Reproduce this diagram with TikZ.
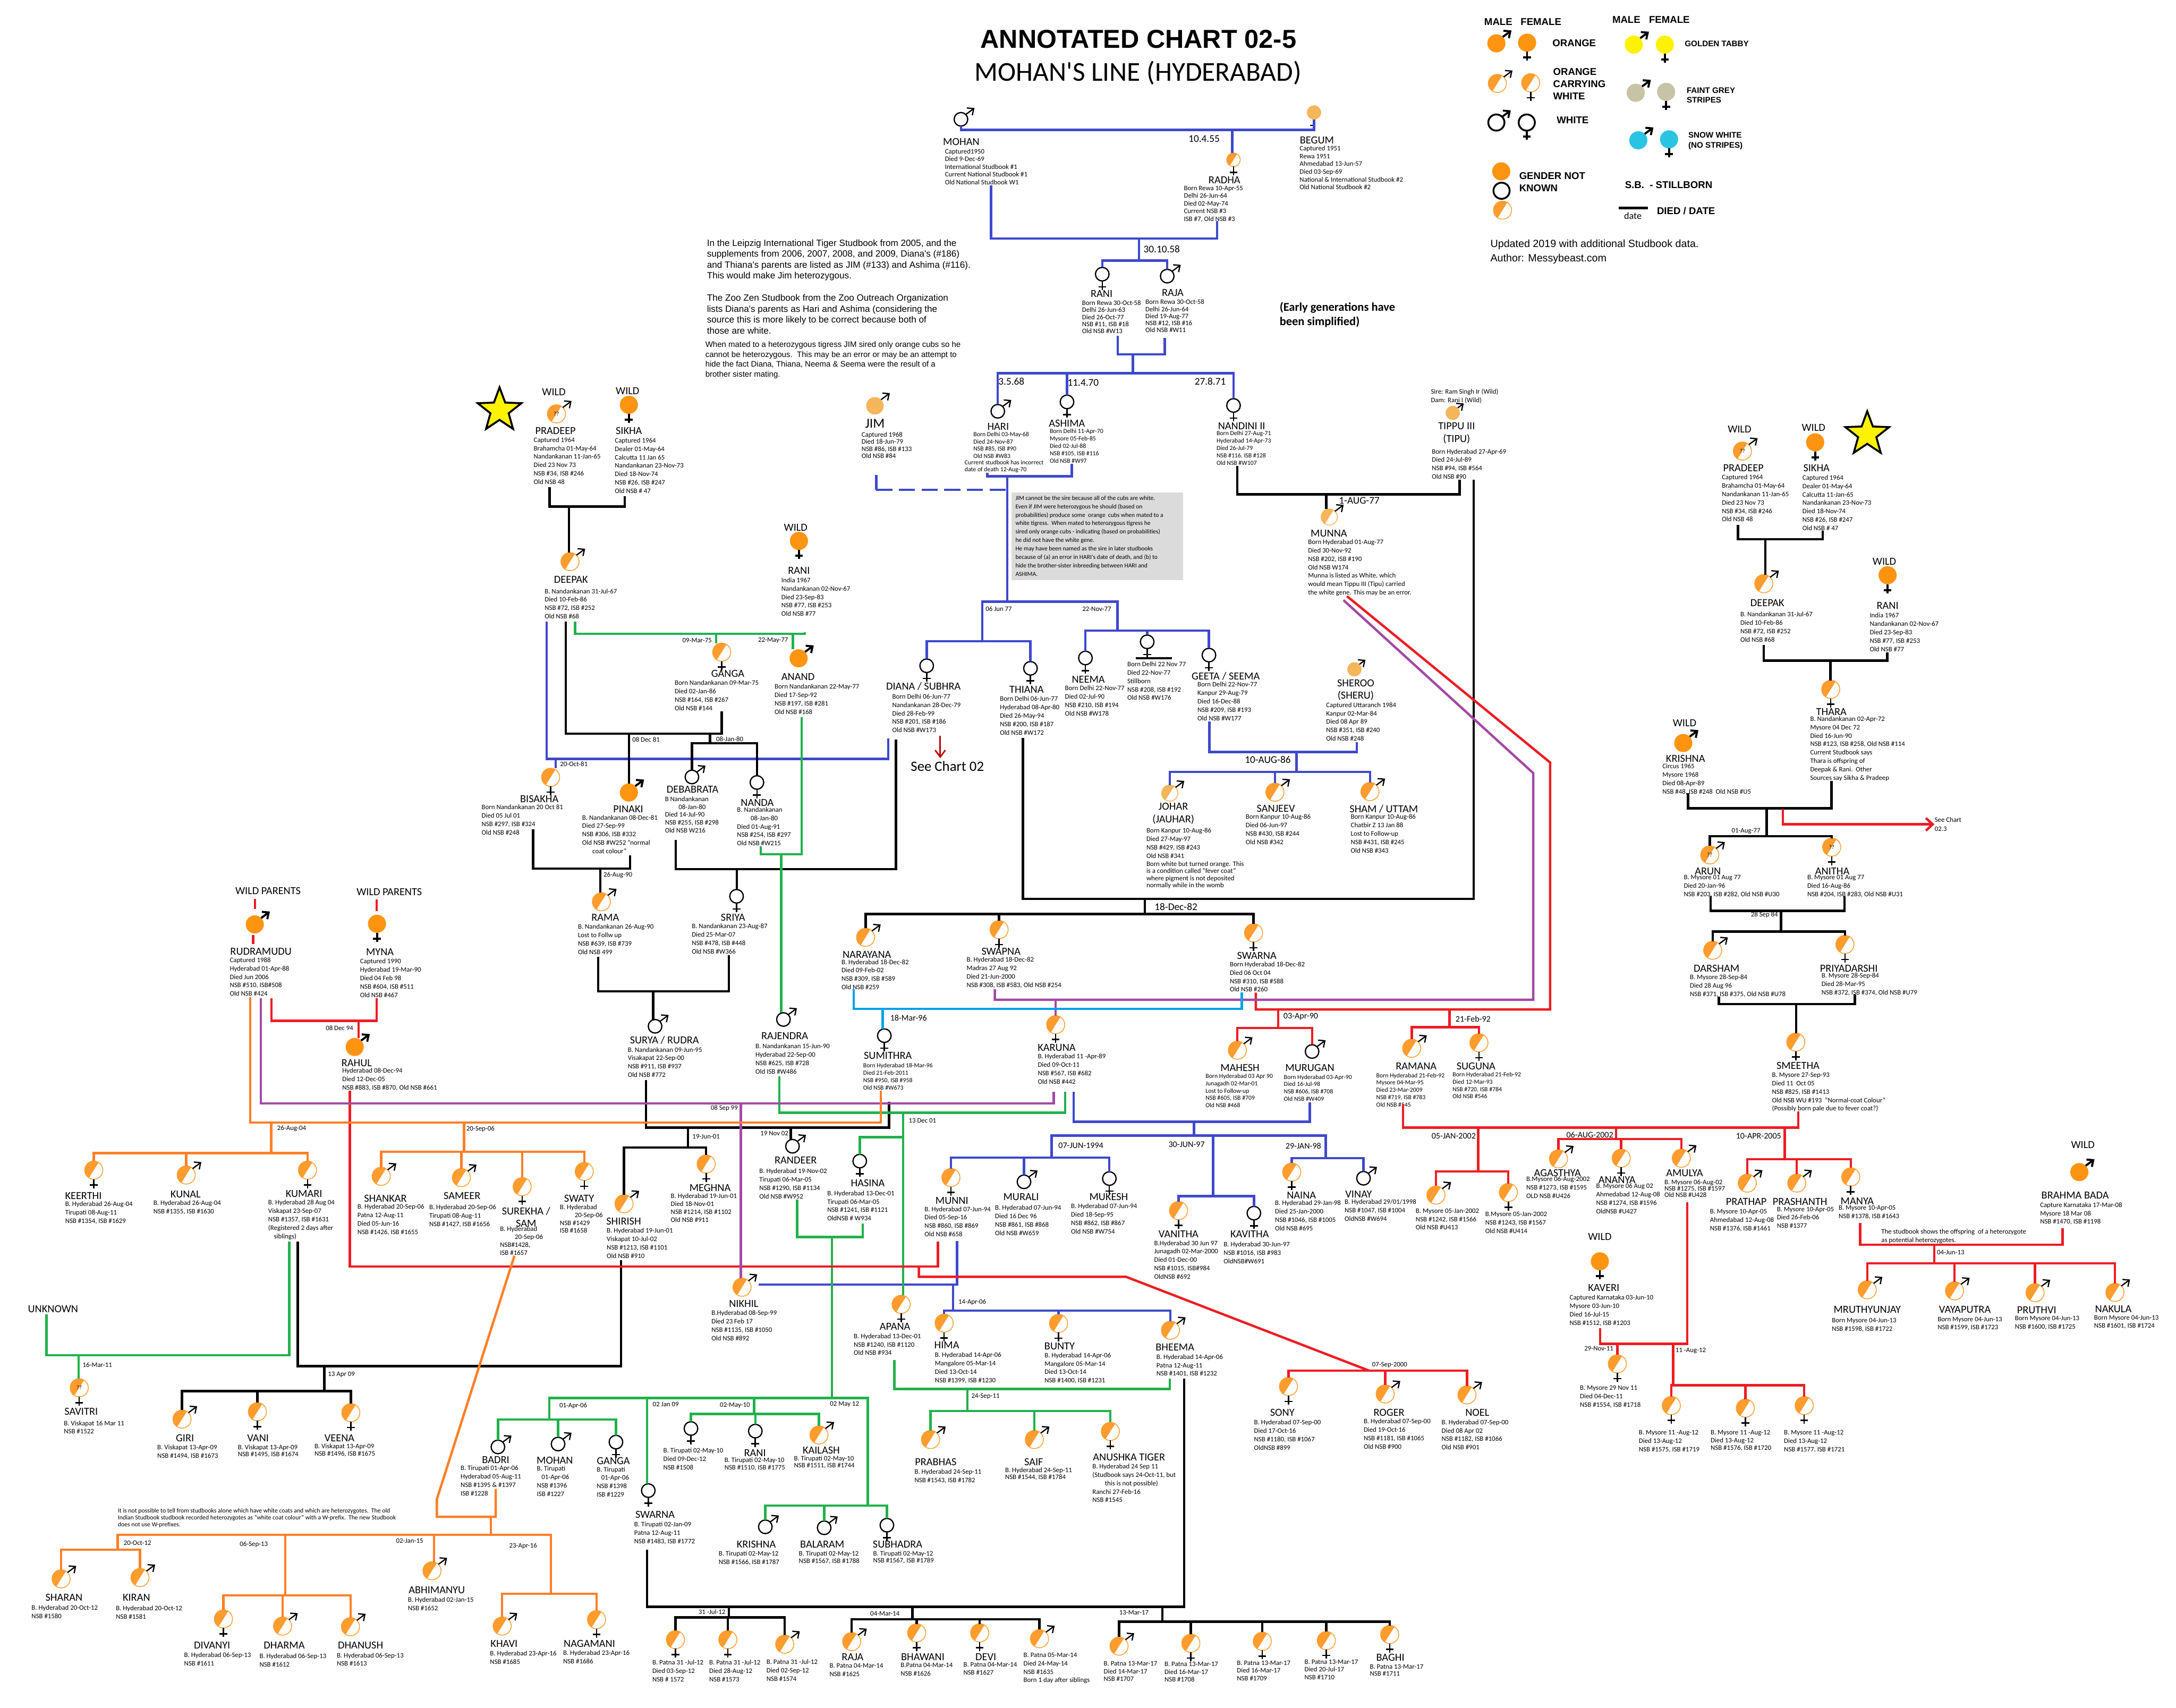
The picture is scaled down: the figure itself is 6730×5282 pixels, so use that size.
\documentclass[tikz,border=0pt]{standalone}
\usepackage{fontspec}
\setmainfont{Carlito}
\newfontfamily\arialfont{Liberation Sans}
\usetikzlibrary{arrows.meta,shapes.geometric}
\definecolor{tigerorange}{HTML}{FF9411}
\definecolor{carrierorange}{HTML}{FF9C2E}
\definecolor{tigersandy}{HTML}{F5B55A}
\definecolor{goldtabby}{HTML}{FFF200}
\definecolor{faintgrey}{HTML}{C6C3A6}
\definecolor{snowwhite}{HTML}{2AC4E2}
\definecolor{lineblue}{HTML}{3F48CC}
\definecolor{linegreen}{HTML}{22B14C}
\definecolor{linered}{HTML}{ED1C24}
\definecolor{linepurple}{HTML}{A349A4}
\definecolor{lineorange}{HTML}{FF7F27}
\definecolor{linecyan}{HTML}{00A2E8}
\tikzset{
 tigbody/.style={circle,inner sep=0pt,outer sep=0pt,minimum size=.56cm},
 bodyorange/.style={tigbody,fill=tigerorange},
 bodycarrier/.style={tigbody,draw=carrierorange,line width=.7pt,fill=white,
  path picture={\fill[carrierorange] (path picture bounding box.center)++(30,-48)--++(-60,96)--++(-60,0)--++(0,-96)--cycle;}},
 bodycarriers/.style={bodycarrier,minimum size=.42cm},
 bodyquery/.style={bodycarrier,execute at begin node={\fontsize{5}{5}\selectfont ??}},
 bodywhite/.style={tigbody,draw,line width=1.1pt,fill=white,minimum size=.42cm},
 bodywhitebig/.style={tigbody,draw,line width=1.6pt,fill=white,minimum size=.5cm},
 bodysandy/.style={tigbody,fill=tigersandy,minimum size=.44cm},
 bodysandybig/.style={tigbody,fill=tigersandy,minimum size=.54cm},
 bodyhalfsandy/.style={tigbody,draw=tigersandy,line width=.7pt,fill=white,minimum size=.5cm,
  path picture={\fill[tigersandy] (path picture bounding box.center)++(30,-48)--++(-60,96)--++(-60,0)--++(0,-96)--cycle;}},
 bodygold/.style={tigbody,fill=goldtabby},
 bodygrey/.style={tigbody,fill=faintgrey},
 bodysnow/.style={tigbody,fill=snowwhite},
 malesign/.style={line width=1.1pt,-{Straight Barb[length=4.5pt,width=8pt]}},
 femalesign/.style={line width=1.2pt},
 signorange/.style={line width=1.8pt},
 signgold/.style={line width=1.8pt},
 signgrey/.style={line width=1.8pt},
 signsnow/.style={line width=1.8pt},
 signwhitebig/.style={line width=1.7pt},
 signsandy/.style={shorten >=3pt},
 tname/.style={font=\fontsize{9.5}{11}\selectfont,inner sep=0pt,align=center},
 tinfo/.style={anchor=north west,inner sep=0pt,align=left,font=\fontsize{6}{#1}\selectfont},
 tinfo/.default=7.4,
 tinfosm/.style={anchor=north west,inner sep=0pt,align=left,font=\fontsize{5.5}{#1}\selectfont},
 tinfosm/.default=6.5,
 datelab/.style={font=\fontsize{6}{7}\selectfont,inner sep=0pt},
 datemid/.style={font=\fontsize{7.5}{9}\selectfont,inner sep=0pt},
 datebig/.style={font=\fontsize{9}{11}\selectfont,inner sep=0pt},
 legbig/.style={anchor=west,inner sep=0pt,font=\arialfont\fontsize{8.7}{10.7}\selectfont\bfseries,align=left},
 legsm/.style={anchor=west,inner sep=0pt,font=\arialfont\fontsize{7.1}{8.6}\selectfont\bfseries,align=left},
 essay/.style={anchor=north west,inner sep=0pt,align=left,font=\arialfont\fontsize{8}{9.6}\selectfont},
 wildstar/.style={star,star points=5,star point ratio=2.4,minimum size=1.42cm,inner sep=0pt,draw,line width=1.7pt,fill=goldtabby},
 linebase/.style={line width=2.1pt,line join=miter},
 blueline/.style={linebase,lineblue},
 blackline/.style={linebase,black},
 greenline/.style={linebase,linegreen},
 redline/.style={linebase,linered},
 purpleline/.style={linebase,linepurple},
 orangeline/.style={linebase,lineorange},
 cyanline/.style={linebase,linecyan},
}
\newcommand{\tigm}[4]{\node[body#1] (#2) at (#3,#4) {}; \draw[malesign,sign#1/.try] (#2.45)--++(27,-20);}
\newcommand{\tigf}[4]{\node[body#1] (#2) at (#3,#4) {}; \draw[femalesign,sign#1/.try] (#2.south)--++(0,28)++(-12,-10)--++(24,0);}
\begin{document}
\begin{tikzpicture}[x=.01cm,y=-.01cm]
 \useasboundingbox (0,0) rectangle (6730,5282);
 % title and notes
 \node[inner sep=0pt,font=\arialfont\fontsize{22.8}{26}\selectfont\bfseries] (title) at (3521,121) {ANNOTATED CHART 02-5};
 \node[inner sep=0pt,font=\fontsize{24}{28}\selectfont] (subtitle) at (3520,226) {MOHAN\textquotesingle S LINE (HYDERABAD)};
 \node[essay] (essay1) at (2186,740) {In the Leipzig International Tiger Studbook from 2005, and the\\supplements from 2006, 2007, 2008, and 2009, Diana's (\#186)\\and Thiana's parents are listed as JIM (\#133) and Ashima (\#116).\\This would make Jim heterozygous.};
 \node[essay] (essay2) at (2186,910) {The Zoo Zen Studbook from the Zoo Outreach Organization\\lists Diana's parents as Hari and Ashima (considering the\\source this is more likely to be correct because both of\\those are white.};
 \node[essay,font=\arialfont\fontsize{7}{8.6}\selectfont] (essay3) at (2181,1056) {When mated to a heterozygous tigress JIM sired only orange cubs so he\\cannot be heterozygous.\ \ This may be an error or may be an attempt to\\hide the fact Diana, Thiana, Neema \& Seema were the result of a\\brother sister mating.};
 \node[anchor=north west,inner sep=0pt,align=left,font=\fontsize{10.5}{12.5}\selectfont\bfseries] (early) at (3957,934) {(Early generations have\\been simplified)};
 \node[anchor=north west,inner sep=0pt,align=left,font=\arialfont\fontsize{9.2}{12.6}\selectfont] (updated) at (4609,740) {Updated 2019 with additional Studbook data.\\Author: Messybeast.com};
 \node[tinfosm=6.2,anchor=north west] (studbooknote) at (364,4664) {It is not possible to tell from studbooks alone which have white coats and which are heterozygotes.\ \ The old\\Indian Studbook studbook recorded heterozygotes as "white coat colour" with a W-prefix.\ \ The new Studbook\\does not use W-prefixes.};
 \node[tinfo=7.4] (hetnote) at (5818,3801) {The studbook shows the offspring\ \ of a heterozygote\\as potential heterozygotes.};
 \fill[gray!28] (3128,1523) rectangle (3659,1794);
 \node[anchor=north west,inner sep=0pt,align=left,font=\fontsize{5.4}{7.4}\selectfont] (greynote) at (3140,1533) {JIM cannot be the sire because all of the cubs are white.\\Even if JIM were heterozygous he should (based on\\probabilities) produce some\ \ orange\ \ cubs when mated to a\\white tigress.\ \ When mated to heterozygous tigress he\\sired only orange cubs - indicating (based on probabilities)\\he did not have the white gene.\\He may have been named as the sire in later studbooks\\because of (a) an error in HARI\textquotesingle s date of death, and (b) to\\hide the brother-sister inbreeding between HARI and\\ASHIMA.};
 % legend
 \node[legbig,anchor=center] (legmale1) at (4634,67) {MALE};
 \node[legbig,anchor=center] (legfemale1) at (4766,67) {FEMALE};
 \node[legbig,anchor=center] (legmale2) at (5030,61) {MALE};
 \node[legbig,anchor=center] (legfemale2) at (5163,61) {FEMALE};
 \tigm{orange}{legom}{4628}{134}
 \tigf{orange}{legof}{4723}{132}
 \node[legbig] (legorange) at (4801,133) {ORANGE};
 \tigm{carrier}{legcm}{4631}{258}
 \tigf{carrier}{legcf}{4734}{256}
 \node[legbig] (legcarrier) at (4803,260) {ORANGE\\CARRYING\\WHITE};
 \tigm{whitebig}{legwm}{4628}{379}
 \tigf{whitebig}{legwf}{4722}{379}
 \node[legbig] (legwhite) at (4814,372) {WHITE};
 \tigm{gold}{leggm}{5053}{138}
 \tigf{gold}{leggf}{5149}{138}
 \node[legsm] (leggold) at (5210,135) {GOLDEN TABBY};
 \tigm{grey}{legfm}{5059}{287}
 \tigf{grey}{legff}{5153}{284}
 \node[legsm] (leggrey) at (5216,295) {FAINT GREY\\STRIPES};
 \tigm{snow}{legsm}{5067}{434}
 \tigf{snow}{legsf}{5162}{431}
 \node[legsm] (legsnow) at (5221,436) {SNOW WHITE\\(NO STRIPES)};
 \node[bodyorange] (legun1) at (4643,530) {};
 \node[bodywhitebig] (legun2) at (4644,590) {};
 \node[bodycarrier] (legun3) at (4647,650) {};
 \node[legbig] (legnotknown) at (4698,563) {GENDER NOT\\KNOWN};
 \node[legbig] (legsb) at (5025,572) {S.B.\ \ - STILLBORN};
 \node[inner sep=0pt,font=\fontsize{8.5}{10}\selectfont] (legdate) at (5050,667) {date};
 \node[legbig] (legdied) at (5124,653) {DIED / DATE};
 \coordinate (legbarl) at (5006,643);
 \coordinate (legbarr) at (5096,643);
 \draw[blackline] (legbarl)--(legbarr);
 % stars
 \node[wildstar] (starleft) at (1545,1269) {};
 \node[wildstar] (starright) at (5775,1343) {};
 % founders at the top
 \tigm{white}{mohan}{2972}{369}
 \node[tname] (mohan-n) at (2973,439) {MOHAN};
 \node[tinfo=6.8] (mohan-i) at (2922,460) {Captured1950\\Died 9-Dec-69\\International Studbook \#1\\Current National Studbook \#1\\Old National Studbook W1};
 \tigf{sandy}{begum}{4064}{348}
 \node[tname] (begum-n) at (4073,434) {BEGUM};
 \node[tinfo=6.8] (begum-i) at (4019,451) {Captured 1951\\Rewa 1951\\Ahmedabad 13-Jun-57\\Died 03-Sep-69\\National \& International Studbook \#2\\Old National Studbook \#2};
 \tigf{carriers}{radha}{3815}{494}
 \node[tname] (radha-n) at (3787,557) {RADHA};
 \node[tinfo=6.8] (radha-i) at (3661,574) {Born Rewa 10-Apr-55\\Delhi 26-Jun-64\\Died 02-May-74\\Current NSB \#3\\ISB \#7, Old NSB \#3};
 \tigf{white}{ranitop}{3409}{848}
 \node[tname] (ranitop-n) at (3407,908) {RANI};
 \node[tinfo=6.2] (ranitop-i) at (3346,929) {Born Rewa 30-Oct-58\\Delhi 26-Jun-63\\Died 26-Oct-77\\NSB \#11, ISB \#18\\Old NSB \#W13};
 \tigm{white}{rajatop}{3610}{854}
 \node[tname] (rajatop-n) at (3627,905) {RAJA};
 \node[tinfo=6.2] (rajatop-i) at (3542,926) {Born Rewa 30-Oct-58\\Delhi 26-Jun-64\\Died 19-Aug-77\\NSB \#12, ISB \#16\\Old NSB \#W11};
 \tigm{white}{hari}{3086}{1272}
 \node[tname] (hari-n) at (3087,1319) {HARI};
 \node[tinfosm] (hari-i) at (3010,1335) {Born Delhi 03-May-68\\Died 24-Nov-87\\NSB \#85, ISB \#90\\Old NSB \#W83};
 \node[tinfosm=6.2] (hari-j) at (2983,1423) {Current studbook has incorrect\\date of death 12-Aug-70};
 \tigf{white}{ashima}{3300}{1243}
 \node[tname] (ashima-n) at (3300,1310) {ASHIMA};
 \node[tinfosm] (ashima-i) at (3246,1326) {Born Delhi 11-Apr-70\\Mysore 05-Feb-85\\Died 02-Jul-88\\NSB \#105, ISB \#116\\Old NSB \#W97};
 \tigf{white}{nandini}{3815}{1254}
 \node[tname] (nandini-n) at (3840,1318) {NANDINI II};
 \node[tinfosm] (nandini-i) at (3762,1333) {Born Delhi 27-Aug-71\\Hyderabad 14-Apr-73\\Died 26-Jul-79\\NSB \#116, ISB \#128\\Old NSB \#W107};
 \tigm{sandybig}{jim}{2706}{1255}
 \node[tname,font=\fontsize{12}{13}\selectfont] (jim-n) at (2706,1310) {JIM};
 \node[tinfo=6.2] (jim-i) at (2664,1336) {Captured 1968\\Died 18-Jun-79\\NSB \#86, ISB \#133\\Old NSB \#84};
 \node[tinfo=7.4] (tippu-s) at (4425,1202) {Sire: Ram Singh Ir (Wild)\\Dam: Rani I (Wild)};
 \tigm{sandy}{tippu}{4493}{1277}
 \node[tname] (tippu-n) at (4505,1340) {TIPPU III\\(TIPU)};
 \node[tinfo] (tippu-i) at (4428,1388) {Born Hyderabad 27-Apr-69\\Died 24-Jul-89\\NSB \#94, ISB \#564\\Old NSB \#90};
 \tigm{halfsandy}{munna}{4111}{1599}
 \node[tname] (munna-n) at (4110,1649) {MUNNA};
 \node[tinfo] (munna-i) at (4045,1668) {Born Hyderabad 01-Aug-77\\Died 30-Nov-92\\NSB \#202, ISB \#190\\Old NSB W174\\Munna is listed as White, which\\would mean Tippu III (Tipu) carried\\the white gene. This may be an error.};
 % left founders
 \node[tname] (wild1) at (1713,1213) {WILD};
 \node[tname] (wild2) at (1941,1209) {WILD};
 \tigm{query}{pradeep}{1721}{1280}
 \node[tname] (pradeep-n) at (1718,1332) {PRADEEP};
 \node[tinfo] (pradeep-i) at (1650,1352) {Captured 1964\\Brahamcha 01-May-64\\Nandankanan 11-Jan-65\\Died 23 Nov 73\\NSB \#34, ISB \#246\\Old NSB 48};
 \tigf{orange}{sikha}{1945}{1252}
 \node[tname] (sikha-n) at (1945,1332) {SIKHA};
 \node[tinfo] (sikha-i) at (1901,1354) {Captured 1964\\Dealer 01-May-64\\Calcutta 11 Jan 65\\Nandankanan 23-Nov-73\\Died 18-Nov-74\\NSB \#26, ISB \#247\\Old NSB \# 47};
 \tigm{carrier}{deepak}{1763}{1737}
 \node[tname] (deepak-n) at (1766,1792) {DEEPAK};
 \node[tinfo] (deepak-i) at (1684,1820) {B. Nandankanan 31-Jul-67\\Died 10-Feb-86\\NSB \#72, ISB \#252\\Old NSB \#68};
 \node[tname] (wild3) at (2461,1631) {WILD};
 \tigf{orange}{rani}{2471}{1673}
 \node[tname] (rani-n) at (2471,1764) {RANI};
 \node[tinfo] (rani-i) at (2416,1786) {India 1967\\Nandankanan 02-Nov-67\\Died 23-Sep-83\\NSB \#77, ISB \#253\\Old NSB \#77};
 \tigf{carrier}{ganga}{2232}{2017}
 \node[tname] (ganga-n) at (2251,2084) {GANGA};
 \node[tinfo] (ganga-i) at (2086,2104) {Born Nandankanan 09-Mar-75\\Died 02-Jan-86\\NSB \#164, ISB \#267\\Old NSB \#144};
 \tigm{orange}{anand}{2470}{2036}
 \node[tname] (anand-n) at (2468,2093) {ANAND};
 \node[tinfo] (anand-i) at (2395,2115) {Born Nandankanan 22-May-77\\Died 17-Sep-92\\NSB \#197, ISB \#281\\Old NSB \#168};
 \tigf{carrier}{bisakha}{1703}{2404}
 \node[tname] (bisakha-n) at (1668,2471) {BISAKHA};
 \node[tinfo] (bisakha-i) at (1489,2488) {Born Nandankanan 20 Oct 81\\Died 05 Jul 01\\NSB \#297, ISB \#324\\Old NSB \#248};
 \tigm{orange}{pinaki}{1945}{2451}
 \node[tname] (pinaki-n) at (1943,2503) {PINAKI};
 \node[tinfo] (pinaki-i) at (1800,2520) {B. Nandankanan 08-Dec-81\\Died 27-Sep-99\\NSB \#306, ISB \#332\\Old NSB \#W252 "normal\\\hspace*{9pt}coat colour"};
 \tigm{white}{debabrata}{2140}{2403}
 \node[tname] (debabrata-n) at (2142,2442) {DEBABRATA};
 \node[tinfo=6.9] (debabrata-i) at (2056,2463) {B Nandankanan\\\hspace*{12pt}08-Jan-80\\Died 14-Jul-90\\NSB \#255, ISB \#298\\Old NSB W216};
 \tigf{white}{nanda}{2341}{2420}
 \node[tname] (nanda-n) at (2342,2482) {NANDA};
 \node[tinfo] (nanda-i) at (2279,2496) {B. Nandankanan\\\hspace*{12pt}08-Jan-80\\Died 01-Aug-91\\NSB \#254, ISB \#297\\Old NSB \#W215};
 \tigm{carrier}{rama}{1860}{2789}
 \node[tname] (rama-n) at (1872,2838) {RAMA};
 \node[tinfo] (rama-i) at (1787,2858) {B. Nandankanan 26-Aug-90\\Lost to Follw up\\NSB \#639, ISB \#739\\Old NSB 499};
 \tigf{white}{sriya}{2278}{2772}
 \node[tname] (sriya-n) at (2267,2838) {SRIYA};
 \node[tinfo] (sriya-i) at (2139,2856) {B. Nandankanan 23-Aug-87\\Died 25-Mar-07\\NSB \#478, ISB \#448\\Old NSB \#W366};
 \tigm{white}{surya}{2026}{3174}
 \node[tname] (surya-n) at (2055,3217) {SURYA / RUDRA};
 \node[tinfo] (surya-i) at (1941,3238) {B. Nandankanan 09-Jun-95\\Visakapat 22-Sep-00\\NSB \#911, ISB \#937\\Old NSB \#772};
 \node[tname] (wildp1) at (829,2756) {WILD PARENTS};
 \node[tname] (wildp2) at (1204,2758) {WILD PARENTS};
 \tigm{orange}{rudramudu}{788}{2859}
 \node[tname] (rudramudu-n) at (807,2942) {RUDRAMUDU};
 \node[tinfo] (rudramudu-i) at (710,2961) {Captured 1988\\Hyderabad 01-Apr-88\\Died Jun 2006\\NSB \#510, ISB\#508\\Old NSB \#424};
 \tigf{orange}{myna}{1166}{2857}
 \node[tname] (myna-n) at (1175,2944) {MYNA};
 \node[tinfo] (myna-i) at (1113,2965) {Captured 1990\\Hyderabad 19-Mar-90\\Died 04 Feb 98\\NSB \#604, ISB \#511\\Old NSB \#467};
 \tigm{orange}{rahul}{1097}{3238}
 \node[tname] (rahul-n) at (1103,3288) {RAHUL};
 \node[tinfo] (rahul-i) at (1058,3303) {Hyderabad 08-Dec-94\\Died 12-Dec-05\\NSB \#883, ISB \#870, Old NSB \#661};
 % Hari and Ashima's children
 \tigf{white}{diana}{2866}{2059}
 \node[tname] (diana-n) at (2856,2123) {DIANA / SUBHRA};
 \node[tinfo] (diana-i) at (2759,2146) {Born Delhi 06-Jun-77\\Nandankanan 28-Dec-79\\Died 28-Feb-99\\NSB \#201, ISB \#186\\Old NSB \#W173};
 \node[inner sep=0pt,font=\fontsize{12.5}{14}\selectfont] (seechart02) at (2930,2369) {See Chart 02};
 \tigf{white}{thiana}{3187}{2067}
 \node[tname] (thiana-n) at (3175,2133) {THIANA};
 \node[tinfo] (thiana-i) at (3092,2153) {Born Delhi 06-Jun-77\\Hyderabad 08-Apr-80\\Died 26-May-94\\NSB \#200, ISB \#187\\Old NSB \#W172};
 \tigf{white}{neema}{3357}{2035}
 \node[tname] (neema-n) at (3366,2101) {NEEMA};
 \node[tinfo] (neema-i) at (3293,2120) {Born Delhi 22-Nov-77\\Died 02-Jul-90\\NSB \#210, ISB \#194\\Old NSB \#W178};
 \tigf{white}{stillborn}{3548}{1985}
 \node[tinfo] (stillborn-i) at (3486,2046) {Born Delhi 22 Nov 77\\Died 22-Nov-77\\Stillborn\\NSB \#208, ISB \#192\\Old NSB \#W176};
 \tigf{white}{geeta}{3739}{2026}
 \node[tname] (geeta-n) at (3791,2092) {GEETA / SEEMA};
 \node[tinfo] (geeta-i) at (3703,2109) {Born Delhi 22-Nov-77\\Kanpur 29-Aug-79\\Died 16-Dec-88\\NSB \#209, ISB \#193\\Old NSB \#W177};
 \tigm{sandy}{sheroo}{4189}{2070}
 \node[tname] (sheroo-n) at (4193,2134) {SHEROO\\(SHERU)};
 \node[tinfo] (sheroo-i) at (4101,2172) {Captured Uttaranch 1984\\Kanpur 02-Mar-84\\Died 08 Apr 89\\NSB \#351, ISB \#240\\Old NSB \#248};
 \tigm{halfsandy}{johar}{3618}{2453}
 \node[tname] (johar-n) at (3629,2516) {JOHAR\\(JAUHAR)};
 \node[tinfo] (johar-i) at (3545,2561) {Born Kanpur 10-Aug-86\\Died 27-May-97\\NSB \#429, ISB \#243\\Old NSB \#341};
 \node[tinfo=6.2] (johar-j) at (3545,2664) {Born white but turned orange. This\\is a condition called "fever coat"\\where pigment is not deposited\\normally while in the womb};
 \tigm{carrier}{sanjeev}{3943}{2450}
 \node[tname] (sanjeev-n) at (3946,2500) {SANJEEV};
 \node[tinfo] (sanjeev-i) at (3852,2518) {Born Kanpur 10-Aug-86\\Died 06-Jun-97\\NSB \#430, ISB \#244\\Old NSB \#342};
 \tigm{carrier}{sham}{4237}{2448}
 \node[tname] (sham-n) at (4280,2502) {SHAM / UTTAM};
 \node[tinfo] (sham-i) at (4177,2518) {Born Kanpur 10-Aug-86\\Chatbir Z 13 Jan 88\\Lost to Follow-up\\NSB \#431, ISB \#245\\Old NSB \#343};
 \tigm{carrier}{narayana}{2677}{2899}
 \node[tname] (narayana-n) at (2681,2952) {NARAYANA};
 \node[tinfo] (narayana-i) at (2602,2967) {B. Hyderabad 18-Dec-82\\Died 09-Feb-02\\NSB \#309, ISB \#589\\Old NSB \#259};
 \tigf{carrier}{swapna}{3090}{2875}
 \node[tname] (swapna-n) at (3096,2942) {SWAPNA};
 \node[tinfo] (swapna-i) at (2989,2960) {B. Hyderabad 18-Dec-82\\Madras 27 Aug 92\\Died 21-Jun-2000\\NSB \#308, ISB \#583, Old NSB \#254};
 \tigf{carrier}{swarna}{3877}{2885}
 \node[tname] (swarna-n) at (3887,2955) {SWARNA};
 \node[tinfo] (swarna-i) at (3803,2974) {Born Hyderabad 18-Dec-82\\Died 06 Oct 04\\NSB \#310, ISB \#588\\Old NSB \#260};
 \tigf{white}{sumithra}{2735}{3203}
 \node[tname] (sumithra-n) at (2746,3265) {SUMITHRA};
 \node[tinfosm] (sumithra-i) at (2669,3288) {Born Hyderabad 18-Mar-96\\Died 21-Feb-2011\\NSB \#950, ISB \#958\\Old NSB \#W673};
 \tigf{carrier}{karuna}{3265}{3169}
 \node[tname] (karuna-n) at (3268,3240) {KARUNA};
 \node[tinfo] (karuna-i) at (3209,3259) {B. Hyderabad 11 -Apr-89\\Died 09-Oct-11\\NSB \#567, ISB \#682\\Old NSB \#442};
 \tigm{carrier}{mahesh}{3827}{3248}
 \node[tname] (mahesh-n) at (3835,3302) {MAHESH};
 \node[tinfosm] (mahesh-i) at (3728,3320) {Born Hyderabad 03 Apr 90\\Junagadh 02-Mar-01\\Lost to Follow-up\\NSB \#605, ISB \#709\\Old NSB \#468};
 \tigm{white}{murugan}{4058}{3252}
 \node[tname] (murugan-n) at (4051,3302) {MURUGAN};
 \node[tinfosm] (murugan-i) at (3970,3323) {Born Hyderabad 03-Apr-90\\Died 16-Jul-98\\NSB \#606, ISB \#708\\Old NSB \#W409};
 \tigm{carrier}{ramana}{4366}{3242}
 \node[tname] (ramana-n) at (4380,3297) {RAMANA};
 \node[tinfosm] (ramana-i) at (4256,3318) {Born Hyderabad 21-Feb-92\\Mysore 04-Mar-95\\Died 23-Mar-2009\\NSB \#719, ISB \#783\\Old NSB \#545};
 \tigf{carrier}{suguna}{4574}{3225}
 \node[tname] (suguna-n) at (4565,3297) {SUGUNA};
 \node[tinfosm] (suguna-i) at (4492,3315) {Born Hyderabad 21-Feb-92\\Died 12-Mar-93\\NSB \#720, ISB \#784\\Old NSB \#546};
 \tigm{white}{rajendra}{2423}{3153}
 \node[tname] (rajendra-n) at (2427,3204) {RAJENDRA};
 \node[tinfo] (rajendra-i) at (2336,3228) {B. Nandankanan 15-Jun-90\\Hyderabad 22-Sep-00\\NSB \#625, ISB \#728\\Old ISB \#W486};
 % Rudramudu's cubs
 \tigf{carrier}{keerthi}{290}{3619}
 \node[tname] (keerthi-n) at (258,3698) {KEERTHI};
 \node[tinfo] (keerthi-i) at (201,3716) {B. Hyderabad 26-Aug-04\\Tirupati 08-Aug-11\\NSB \#1354, ISB \#1629};
 \tigm{carrier}{kunal}{576}{3634}
 \node[tname] (kunal-n) at (574,3694) {KUNAL};
 \node[tinfo] (kunal-i) at (474,3712) {B. Hyderabad 26-Aug-04\\NSB \#1355, ISB \#1630};
 \tigf{carrier}{kumari}{951}{3619}
 \node[tname] (kumari-n) at (940,3692) {KUMARI};
 \node[tinfo] (kumari-i) at (829,3711) {B. Hyderabad 28 Aug 04\\Viskapat 23-Sep-07\\NSB \#1357, ISB \#1631\\(Registered 2 days after\\\hspace*{5pt}siblings)};
 \tigm{carrier}{shankar}{1179}{3638}
 \node[tname] (shankar-n) at (1192,3707) {SHANKAR};
 \node[tinfo] (shankar-i) at (1105,3724) {B. Hyderabad 20-Sep-06\\Patna 12-Aug-11\\Died 05-Jun-16\\NSB \#1426, ISB \#1655};
 \tigm{carrier}{sameer}{1427}{3642}
 \node[tname] (sameer-n) at (1429,3699) {SAMEER};
 \node[tinfo] (sameer-i) at (1327,3725) {B. Hyderabad 20-Sep-06\\Tirupati 08-Aug-11\\NSB \#1427, ISB \#1656};
 \tigf{carrier}{surekha}{1615}{3670}
 \node[tname] (surekha-n) at (1627,3764) {SUREKHA /\\SAM};
 \node[tinfo=6.9] (surekha-i) at (1546,3793) {B. Hyderabad\\\hspace*{13pt}20-Sep-06\\NSB\#1428,\\ISB \#1657};
 \tigf{carrier}{swaty}{1807}{3623}
 \node[tname] (swaty-n) at (1791,3706) {SWATY};
 \node[tinfo=6.9] (swaty-i) at (1731,3725) {B. Hyderabad\\\hspace*{13pt}20-Sep-06\\NSB \#1429\\ISB \#1658};
 \tigm{carrier}{shirish}{1930}{3723}
 \node[tname] (shirish-n) at (1929,3778) {SHIRISH};
 \node[tinfo] (shirish-i) at (1876,3798) {B. Hyderabad 19-Jun-01\\Viskapat 10-Jul-02\\NSB \#1213, ISB \#1101\\Old NSB \#910};
 \tigf{carrier}{meghna}{2184}{3600}
 \node[tname] (meghna-n) at (2196,3674) {MEGHNA};
 \node[tinfo=7] (meghna-i) at (2074,3691) {B. Hyderabad 19-Jun-01\\Died 18-Nov-01\\NSB \#1214, ISB \#1102\\Old NSB \#911};
 \tigm{white}{randeer}{2451}{3545}
 \node[tname] (randeer-n) at (2461,3589) {RANDEER};
 \node[tinfo] (randeer-i) at (2348,3614) {B. Hyderabad 19-Nov-02\\Tirupati 06-Mar-05\\NSB \#1290, ISB \#1134\\Old NSB \#W952};
 \tigf{white}{hasina}{2659}{3591}
 \node[tname] (hasina-n) at (2684,3659) {HASINA};
 \node[tinfo] (hasina-i) at (2558,3682) {B. Hyderabad 13-Dec-01\\Tirupati 06-Mar-05\\NSB \#1241, ISB \#1121\\OldNSB \# W934};
 \tigm{carrier}{nikhil}{2295}{3981}
 \node[tname] (nikhil-n) at (2300,4032) {NIKHIL};
 \node[tinfo] (nikhil-i) at (2200,4052) {B.Hyderabad 08-Sep-99\\Died 23 Feb 17\\NSB \#1135, ISB \#1050\\Old NSB \#892};
 \tigf{carrier}{apana}{2787}{4034}
 \node[tname] (apana-n) at (2768,4102) {APANA};
 \node[tinfo] (apana-i) at (2640,4124) {B. Hyderabad 13-Dec-01\\NSB \#1240, ISB \#1120\\Old NSB \#934};
 \tigf{carrier}{munni}{2941}{3642}
 \node[tname] (munni-n) at (2944,3714) {MUNNI};
 \node[tinfo] (munni-i) at (2859,3731) {B. Hyderabad 07-Jun-94\\Died 05-Sep-16\\NSB \#860, ISB \#869\\Old NSB \#658};
 \tigm{white}{murali}{3167}{3655}
 \node[tname] (murali-n) at (3158,3702) {MURALI};
 \node[tinfo] (murali-i) at (3077,3727) {B. Hyderabad 07-Jun-94\\Died 16 Dec 96\\NSB \#861, ISB \#868\\Old NSB \#W659};
 \tigf{white}{mukesh}{3431}{3645}
 \node[tname] (mukesh-n) at (3429,3702) {MUKESH};
 \node[tinfo] (mukesh-i) at (3312,3722) {B. Hyderabad 07-Jun-94\\Died 18-Sep-95\\NSB \#862, ISB \#867\\Old NSB \#W754};
 \tigf{carrier}{naina}{3995}{3625}
 \node[tname] (naina-n) at (4025,3697) {NAINA};
 \node[tinfo] (naina-i) at (3943,3712) {B. Hyderabad 29-Jan-98\\Died 25-Jan-2000\\NSB \#1046, ISB \#1005\\Old NSB \#695};
 \tigm{white}{vinay}{4217}{3644}
 \node[tname] (vinay-n) at (4202,3694) {VINAY};
 \node[tinfo] (vinay-i) at (4158,3709) {B. Hyderabad 29/01/1998\\NSB \#1047, ISB \#1004\\OldNSB \#W694};
 \tigf{carrier}{vanitha}{3645}{3744}
 \node[tname] (vanitha-n) at (3645,3817) {VANITHA};
 \node[tinfo] (vanitha-i) at (3569,3836) {B.Hyderabad 30 Jun 97\\Junagadh 02-Mar-2000\\Died 01-Dec-00\\NSB \#1015, ISB\#984\\OldNSB \#692};
 \tigf{white}{kavitha}{3878}{3752}
 \node[tname] (kavitha-n) at (3865,3817) {KAVITHA};
 \node[tinfo] (kavitha-i) at (3784,3840) {B. Hyderabad 30-Jun-97\\NSB \#1016, ISB \#983\\OldNSB\#W691};
 \tigf{carrier}{hima}{2920}{4092}
 \node[tname] (hima-n) at (2928,4160) {HIMA};
 \node[tinfo] (hima-i) at (2891,4182) {B. Hyderabad 14-Apr-06\\Mangalore 05-Mar-14\\Died 13-Oct-14\\NSB \#1399, ISB \#1230};
 \tigf{carrier}{bunty}{3274}{4093}
 \node[tname] (bunty-n) at (3277,4163) {BUNTY};
 \node[tinfo] (bunty-i) at (3230,4183) {B. Hyderabad 14-Apr-06\\Mangalore 05-Mar-14\\Died 13-Oct-14\\NSB \#1400, ISB \#1231};
 \tigm{carrier}{bheema}{3620}{4114}
 \node[tname] (bheema-n) at (3634,4166) {BHEEMA};
 \node[tinfo] (bheema-i) at (3576,4188) {B. Hyderabad 14-Apr-06\\Patna 12-Aug-11\\NSB \#1401, ISB \#1232};
 \tigf{carrier}{sony}{3985}{4288}
 \node[tname] (sony-n) at (3966,4368) {SONY};
 \node[tinfo] (sony-i) at (3878,4391) {B. Hyderabad 07-Sep-00\\Died 17-Oct-16\\NSB \#1180, ISB \#1067\\OldNSB \#899};
 \tigm{carrier}{roger}{4284}{4311}
 \node[tname] (roger-n) at (4296,4368) {ROGER};
 \node[tinfo] (roger-i) at (4217,4388) {B. Hyderabad 07-Sep-00\\Died 19-Oct-16\\NSB \#1181, ISB \#1065\\Old NSB \#900};
 \tigm{carrier}{noel}{4537}{4314}
 \node[tname] (noel-n) at (4569,4368) {NOEL};
 \node[tinfo] (noel-i) at (4458,4390) {B. Hyderabad 07-Sep-00\\Died 08 Apr 02\\NSB \#1182, ISB \#1066\\Old NSB \#901};
 \tigm{carrier}{prabhas}{2878}{4452}
 \node[tname] (prabhas-n) at (2894,4521) {PRABHAS};
 \node[tinfo] (prabhas-i) at (2828,4543) {B. Hyderabad 24-Sep-11\\NSB \#1543, ISB \#1782};
 \tigm{carrier}{saif}{3199}{4452}
 \node[tname] (saif-n) at (3197,4521) {SAIF};
 \node[tinfo=6.2] (saif-i) at (3108,4538) {B. Hyderabad 24-Sep-11\\NSB \#1544, ISB \#1784};
 \tigf{carrier}{anushka}{3434}{4427}
 \node[tname] (anushka-n) at (3492,4507) {ANUSHKA TIGER};
 \node[tinfo] (anushka-i) at (3378,4527) {B. Hyderabad 24 Sep 11\\(Studbook says 24-Oct-11, but\\\hspace*{11pt}this is not possible)\\Ranchi 27-Feb-16\\NSB \#1545};
 % Kumari's line
 \node[tname] (unknown) at (164,4049) {UNKNOWN};
 \tigf{query}{savitri}{245}{4292}
 \node[tname] (savitri-n) at (251,4366) {SAVITRI};
 \node[tinfo] (savitri-i) at (197,4393) {B. Viskapat 16 Mar 11\\NSB \#1522};
 \tigm{carrier}{giri}{563}{4389}
 \node[tname] (giri-n) at (572,4448) {GIRI};
 \node[tinfo] (giri-i) at (486,4468) {B. Viskapat 13-Apr-09\\NSB \#1494, ISB \#1673};
 \tigf{carrier}{vani}{796}{4366}
 \node[tname] (vani-n) at (798,4448) {VANI};
 \node[tinfo=6.2] (vani-i) at (735,4467) {B. Viskapat 13-Apr-09\\NSB \#1495, ISB \#1674};
 \tigf{carrier}{veena}{1085}{4369}
 \node[tname] (veena-n) at (1050,4448) {VEENA};
 \node[tinfo=6.2] (veena-i) at (972,4465) {B. Viskapat 13-Apr-09\\NSB \#1496, ISB \#1675};
 \tigm{white}{badri}{1540}{4475}
 \node[tname] (badri-n) at (1533,4515) {BADRI};
 \node[tinfo] (badri-i) at (1424,4532) {B. Tirupati 01-Apr-06\\Hyderabad 05-Aug-11\\NSB \#1395 \& \#1397\\ISB \#1228};
 \tigm{white}{mohantwo}{1726}{4466}
 \node[tname] (mohantwo-n) at (1716,4517) {MOHAN};
 \node[tinfo] (mohantwo-i) at (1660,4534) {B. Tirupati\\\hspace*{4pt}01-Apr-06\\NSB \#1396\\ISB \#1227};
 \tigf{white}{gangatwo}{1905}{4460}
 \node[tname] (gangatwo-n) at (1897,4519) {GANGA};
 \node[tinfo] (gangatwo-i) at (1845,4536) {B. Tirupati\\\hspace*{4pt}01-Apr-06\\NSB \#1398\\ISB \#1229};
 \tigf{white}{swarnatwo}{2005}{4610}
 \node[tname] (swarnatwo-n) at (2026,4684) {SWARNA};
 \node[tinfo] (swarnatwo-i) at (1961,4706) {B. Tirupati 02-Jan-09\\Patna 12-Aug-11\\NSB \#1483, ISB \#1772};
 \tigf{white}{cubtira}{2137}{4418}
 \node[tinfo] (cubtira-i) at (2051,4478) {B. Tirupati 02-May-10\\Died 09-Dec-12\\NSB \#1508};
 \tigf{white}{ranitwo}{2336}{4426}
 \node[tname] (ranitwo-n) at (2335,4494) {RANI};
 \node[tinfo=6.2] (ranitwo-i) at (2240,4508) {B. Tirupati 02-May-10\\NSB \#1510, ISB \#1775};
 \tigm{carrier}{kailash}{2533}{4438}
 \node[tname] (kailash-n) at (2540,4485) {KAILASH};
 \node[tinfo=6.2] (kailash-i) at (2455,4502) {B. Tirupati 02-May-10\\NSB \#1511, ISB \#1744};
 \tigm{white}{krishnatwo}{2367}{4722}
 \node[tname] (krishnatwo-n) at (2339,4776) {KRISHNA};
 \node[tinfo] (krishnatwo-i) at (2222,4797) {B. Tirupati 02-May-12\\NSB \#1566, ISB \#1787};
 \tigm{white}{balaram}{2549}{4725}
 \node[tname] (balaram-n) at (2543,4776) {BALARAM};
 \node[tinfo=6.2] (balaram-i) at (2470,4797) {B. Tirupati 02-May-12\\NSB \#1567, ISB \#1788};
 \tigf{white}{subhadra}{2743}{4717}
 \node[tname] (subhadra-n) at (2776,4776) {SUBHADRA};
 \node[tinfo=6.2] (subhadra-i) at (2700,4796) {B. Tirupati 02-May-12\\NSB \#1567, ISB \#1789};
 % Surekha's cubs
 \tigm{carrier}{sharan}{189}{4883}
 \node[tname] (sharan-n) at (198,4941) {SHARAN};
 \node[tinfo] (sharan-i) at (97,4964) {B. Hyderabad 20-Oct-12\\NSB \#1580};
 \tigm{carrier}{kiran}{433}{4879}
 \node[tname] (kiran-n) at (422,4941) {KIRAN};
 \node[tinfo] (kiran-i) at (358,4966) {B. Hyderabad 20-Oct-12\\NSB \#1581};
 \tigf{carrier}{divanyi}{691}{5007}
 \node[tname] (divanyi-n) at (656,5088) {DIVANYI};
 \node[tinfo] (divanyi-i) at (569,5110) {B. Hyderabad 06-Sep-13\\NSB \#1611};
 \tigm{carrier}{dharma}{874}{5029}
 \node[tname] (dharma-n) at (879,5088) {DHARMA};
 \node[tinfo] (dharma-i) at (802,5114) {B. Hyderabad 06-Sep-13\\NSB \#1612};
 \tigm{carrier}{dhanush}{1084}{5031}
 \node[tname] (dhanush-n) at (1115,5088) {DHANUSH};
 \node[tinfo] (dhanush-i) at (1041,5111) {B. Hyderabad 06-Sep-13\\NSB \#1613};
 \tigm{carrier}{abhimanyu}{1336}{4858}
 \node[tname] (abhimanyu-n) at (1351,4917) {ABHIMANYU};
 \node[tinfo] (abhimanyu-i) at (1261,4939) {B. Hyderabad 02-Jan-15\\NSB \#1652};
 \tigm{carrier}{khavi}{1553}{5029}
 \node[tname] (khavi-n) at (1559,5084) {KHAVI};
 \node[tinfo] (khavi-i) at (1515,5106) {B. Hyderabad 23-Apr-16\\NSB \#1685};
 \tigf{carrier}{nagamani}{1845}{5009}
 \node[tname] (nagamani-n) at (1823,5084) {NAGAMANI};
 \node[tinfo] (nagamani-i) at (1741,5104) {B. Hyderabad 23-Apr-16\\NSB \#1686};
 % Swarna's cubs at Patna
 \tigf{carrier}{cubjula}{2089}{5071}
 \node[tinfo] (cubjula-i) at (2017,5133) {B. Patna 31 -Jul-12\\Died 03-Sep-12\\NSB \# 1572};
 \tigf{carrier}{cubjulb}{2251}{5071}
 \node[tinfo] (cubjulb-i) at (2193,5133) {B. Patna 31 -Jul-12\\Died 28-Aug-12\\NSB \#1573};
 \tigm{carrier}{cubjulc}{2427}{5085}
 \node[tinfo] (cubjulc-i) at (2370,5132) {B. Patna 31 -Jul-12\\Died 02-Sep-12\\NSB \#1574};
 \tigm{carrier}{rajatwo}{2634}{5077}
 \node[tname] (rajatwo-n) at (2637,5124) {RAJA};
 \node[tinfo] (rajatwo-i) at (2565,5144) {B. Patna 04-Mar-14\\NSB \#1625};
 \tigf{carrier}{bhawani}{2835}{5050}
 \node[tname] (bhawani-n) at (2854,5124) {BHAWANI};
 \node[tinfo] (bhawani-i) at (2785,5142) {B.Patna 04-Mar-14\\NSB \#1626};
 \tigf{carrier}{devi}{3030}{5050}
 \node[tname] (devi-n) at (3049,5124) {DEVI};
 \node[tinfo] (devi-i) at (2979,5140) {B. Patna 04-Mar-14\\NSB \#1627};
 \tigm{carrier}{cubmar}{3215}{5068}
 \node[tinfo] (cubmar-i) at (3165,5111) {B. Patna 05-Mar-14\\Died 24-May-14\\NSB \#1635\\Born 1 day after siblings};
 \tigm{carrier}{cubpa}{3461}{5091}
 \node[tinfo=6.8] (cubpa-i) at (3413,5138) {B. Patna 13-Mar-17\\Died 14-Mar-17\\NSB \#1707};
 \tigf{carrier}{cubpb}{3683}{5082}
 \node[tinfo=6.8] (cubpb-i) at (3601,5139) {B. Patna 13-Mar-17\\Died 16-Mar-17\\NSB \#1708};
 \tigf{carrier}{cubpc}{3904}{5076}
 \node[tinfo=6.8] (cubpc-i) at (3825,5135) {B. Patna 13-Mar-17\\Died 16-Mar-17\\NSB \#1709};
 \tigf{carrier}{cubpd}{4102}{5074}
 \node[tinfo=6.8] (cubpd-i) at (4034,5132) {B. Patna 13-Mar-17\\Died 20-Jul-17\\NSB \#1710};
 \tigf{carrier}{baghi}{4298}{5055}
 \node[tname] (baghi-n) at (4300,5127) {BAGHI};
 \node[tinfo=6.2] (baghi-i) at (4236,5147) {B. Patna 13-Mar-17\\NSB \#1711};
 % Mysore side
 \node[tname] (wild4) at (5380,1328) {WILD};
 \node[tname] (wild5) at (5609,1323) {WILD};
 \tigm{query}{pradeepr}{5389}{1395}
 \node[tname] (pradeepr-n) at (5392,1448) {PRADEEP};
 \node[tinfo] (pradeepr-i) at (5325,1468) {Captured 1964\\Brahamcha 01-May-64\\Nandankanan 11-Jan-65\\Died 23 Nov 73\\NSB \#34, ISB \#246\\Old NSB 48};
 \tigf{orange}{sikhar}{5614}{1368}
 \node[tname] (sikhar-n) at (5618,1448) {SIKHA};
 \node[tinfo] (sikhar-i) at (5574,1469) {Captured 1964\\Dealer 01-May-64\\Calcutta 11-Jan-65\\Nandankanan 23-Nov-73\\Died 18-Nov-74\\NSB \#26, ISB \#247\\Old NSB \# 47};
 \tigm{carrier}{deepakr}{5455}{1805}
 \node[tname] (deepakr-n) at (5466,1865) {DEEPAK};
 \node[tinfo] (deepakr-i) at (5382,1892) {B. Nandankanan 31-Jul-67\\Died 10-Feb-86\\NSB \#72, ISB \#252\\Old NSB \#68};
 \node[tname] (wild6) at (5828,1737) {WILD};
 \tigf{orange}{ranir}{5838}{1779}
 \node[tname] (ranir-n) at (5838,1873) {RANI};
 \node[tinfo] (ranir-i) at (5782,1895) {India 1967\\Nandankanan 02-Nov-67\\Died 23-Sep-83\\NSB \#77, ISB \#253\\Old NSB \#77};
 \tigf{carrier}{thara}{5662}{2132}
 \node[tname] (thara-n) at (5664,2201) {THARA};
 \node[tinfo] (thara-i) at (5598,2215) {B. Nandankanan 02-Apr-72\\Mysore 04 Dec 72\\Died 16-Jun-90\\NSB \#123, ISB \#258, Old NSB \#114\\Current Studbook says\\Thara is offspring of\\Deepak \& Rani.\ \ Other\\Sources say Sikha \& Pradeep};
 \node[tname] (wild7) at (5210,2236) {WILD};
 \tigm{orange}{krishna}{5206}{2298}
 \node[tname] (krishna-n) at (5213,2347) {KRISHNA};
 \node[tinfo] (krishna-i) at (5141,2362) {Circus 1965\\Mysore 1968\\Died 08-Apr-89\\NSB \#48, ISB \#248\ \ Old NSB \#U5};
 \node[tinfo=8.2] (seechart) at (5983,2527) {See Chart\\02.3};
 \tigm{query}{arun}{5288}{2644}
 \node[tname] (arun-n) at (5282,2694) {ARUN};
 \node[tinfo] (arun-i) at (5207,2706) {B. Mysore 01 Aug 77\\Died 20-Jan-96\\NSB \#203, ISB \#282, Old NSB \#U30};
 \tigf{query}{anitha}{5665}{2620}
 \node[tname] (anitha-n) at (5667,2694) {ANITHA};
 \node[tinfo] (anitha-i) at (5589,2706) {B. Mysore 01 Aug 77\\Died 16-Aug-86\\NSB \#204, ISB \#283, Old NSB \#U31};
 \tigm{carrier}{darsham}{5297}{2939}
 \node[tname] (darsham-n) at (5309,2996) {DARSHAM};
 \node[tinfo] (darsham-i) at (5226,3014) {B. Mysore 28-Sep-84\\Died 28 Aug 96\\NSB \#371, ISB \#375, Old NSB \#U78};
 \tigf{carrier}{priyadarshi}{5706}{2921}
 \node[tname] (priyadarshi-n) at (5718,2996) {PRIYADARSHI};
 \node[tinfo] (priyadarshi-i) at (5633,3009) {B. Mysore 28-Sep-84\\Died 28-Mar-95\\NSB \#372, ISB \#374, Old NSB \#U79};
 \tigf{carrier}{smeetha}{5554}{3223}
 \node[tname] (smeetha-n) at (5561,3296) {SMEETHA};
 \node[tinfo] (smeetha-i) at (5480,3317) {B. Mysore 27-Sep-93\\Died 11\ \ Oct 05\\NSB \#825, ISB \#1413\\Old NSB WU \#193\ \ "Normal-coat Colour"\\(Possibly born pale due to fever coat?)};
 \tigm{carrier}{cubjana}{4441}{3696}
 \node[tinfo] (cubjana-i) at (4378,3737) {B. Mysore 05-Jan-2002\\NSB \#1242, ISB \#1566\\Old NSB \#U413};
 \tigf{carrier}{cubjanb}{4665}{3688}
 \node[tinfo] (cubjanb-i) at (4593,3748) {B.Mysore 05-Jan-2002\\NSB \#1243, ISB \#1567\\Old NSB \#U414};
 \tigm{carrier}{agasthya}{4820}{3584}
 \node[tname] (agasthya-n) at (4817,3628) {AGASTHYA};
 \node[tinfo] (agasthya-i) at (4720,3639) {B.Mysore 06-Aug-2002\\NSB \#1273, ISB \#1595\\OLD NSB \#U426};
 \tigf{carrier}{ananya}{5014}{3582}
 \node[tname] (ananya-n) at (5001,3649) {ANANYA};
 \node[tinfo] (ananya-i) at (4936,3660) {B. Mysore 06 Aug 02\\Ahmedabad 12-Aug-08\\NSB \#1274, ISB \#1596\\OldNSB \#U427};
 \tigm{carrier}{amulya}{5200}{3582}
 \node[tname] (amulya-n) at (5210,3628) {AMULYA};
 \node[tinfo=5.6] (amulya-i) at (5147,3649) {B. Mysore 06-Aug-02\\NSB \#1275, ISB \#1597\\Old NSB \#U428};
 \tigm{carrier}{prathap}{5404}{3659}
 \node[tname] (prathap-n) at (5401,3717) {PRATHAP};
 \node[tinfo] (prathap-i) at (5288,3739) {B. Mysore 10-Apr-05\\Ahmedabad 12-Aug-08\\NSB \#1376, ISB \#1461};
 \tigm{carrier}{prashanth}{5557}{3659}
 \node[tname] (prashanth-n) at (5567,3717) {PRASHANTH};
 \node[tinfo] (prashanth-i) at (5495,3732) {B. Mysore 10-Apr-05\\Died 26-Feb-06\\NSB \#1377};
 \tigf{carrier}{manya}{5724}{3640}
 \node[tname] (manya-n) at (5744,3715) {MANYA};
 \node[tinfo] (manya-i) at (5686,3728) {B. Mysore 10-Apr-05\\NSB \#1378, ISB \#1643};
 \node[tname] (wild8) at (6442,3541) {WILD};
 \tigm{orange}{brahma}{6431}{3625}
 \node[tname] (brahma-n) at (6418,3697) {BRAHMA BADA};
 \node[tinfo] (brahma-i) at (6309,3718) {Capture Karnataka 17-Mar-08\\Mysore 18 Mar 08\\NSB \#1470, ISB \#1198};
 \tigm{carrier}{mruthyunjay}{5775}{3989}
 \node[tname] (mruthyunjay-n) at (5775,4050) {MRUTHYUNJAY};
 \node[tinfo] (mruthyunjay-i) at (5665,4076) {Born Mysore 04-Jun-13\\NSB \#1598, ISB \#1722};
 \tigm{carrier}{vayaputra}{6045}{3992}
 \node[tname] (vayaputra-n) at (6077,4050) {VAYAPUTRA};
 \node[tinfo] (vayaputra-i) at (5992,4072) {Born Mysore 04-Jun-13\\NSB \#1599, ISB \#1723};
 \tigm{carrier}{pruthvi}{6294}{3998}
 \node[tname] (pruthvi-n) at (6299,4052) {PRUTHVI};
 \node[tinfo] (pruthvi-i) at (6231,4069) {Born Mysore 04-Jun-13\\NSB \#1600, ISB \#1725};
 \tigm{carrier}{nakula}{6541}{3997}
 \node[tname] (nakula-n) at (6536,4049) {NAKULA};
 \node[tinfo] (nakula-i) at (6476,4067) {Born Mysore 04-Jun-13\\NSB \#1601, ISB \#1724};
 \node[tname] (wild9) at (4948,3825) {WILD};
 \tigf{orange}{kaveri}{4948}{3901}
 \node[tname] (kaveri-n) at (4960,3982) {KAVERI};
 \node[tinfo] (kaveri-i) at (4854,4005) {Captured Karnataka 03-Jun-10\\Mysore 03-Jun-10\\Died 16-Jul-15\\NSB \#1512, ISB \#1203};
 \tigf{carrier}{cubnov}{5002}{4218}
 \node[tinfo] (cubnov-i) at (4886,4285) {B. Mysore 29 Nov 11\\Died 04-Dec-11\\NSB \#1554, ISB \#1718};
 \tigf{carrier}{cubauga}{5169}{4347}
 \node[tinfo] (cubauga-i) at (5068,4423) {B. Mysore 11 -Aug-12\\Died 13-Aug-12\\NSB \#1575, ISB \#1719};
 \tigf{carrier}{cubaugb}{5398}{4355}
 \node[tinfo=6.8] (cubaugb-i) at (5290,4423) {B. Mysore 11 -Aug-12\\Died 13-Aug-12\\NSB \#1576, ISB \#1720};
 \tigf{carrier}{cubaugc}{5580}{4347}
 \node[tinfo] (cubaugc-i) at (5517,4423) {B. Mysore 11 -Aug-12\\Died 13-Aug-12\\NSB \#1577, ISB \#1721};
 % dates on the lines
 \foreach \n/\x/\y/\t in {d1/3724/429/10.4.55,d2/3593/770/30.10.58,d3/3128/1179/3.5.68,d4/3350/1184/11.4.70,d5/3743/1180/27.8.71,d6/4204/1549/1-AUG-77,d7/3921/2350/10-AUG-86,d8/3637/2805/18-Dec-82}
  \node[datebig] (\n) at (\x,\y) {\t};
 \foreach \n/\x/\y/\t in {m1/2810/3148/18-Mar-96,m2/4023/3144/03-Apr-90,m3/4556/3152/21-Feb-92,m4/3343/3543/07-JUN-1994,m5/3670/3539/30-JUN-97,m6/4031/3544/29-JAN-98,m7/4496/3514/05-JAN-2002,m8/4917/3509/06-AUG-2002,m9/5439/3514/10-APR-2005}
  \node[datemid] (\n) at (\x,\y) {\t};
 \foreach \n/\x/\y/\t in {s1/3089/1883/06 Jun 77,s2/3392/1884/22-Nov-77,s3/2156/1981/09-Mar-75,s4/2391/1981/22-May-77,s5/1998/2287/08 Dec 81,s6/2257/2286/08-Jan-80,s7/1775/2363/20-Oct-81,s8/1911/2707/26-Aug-90,s9/1050/3179/08 Dec 94,s10/2240/3427/08 Sep 99,s11/902/3490/26-Aug-04,s12/1486/3491/20-Sep-06,s13/2184/3515/19-Jun-01,s14/2395/3506/19 Nov 02,s15/2853/3466/13 Dec 01,s16/1056/4251/13 Apr 09,s17/301/4221/16-Mar-11,s18/1773/4348/01-Apr-06,s19/2059/4343/02 Jan 09,s20/2273/4347/02-May-10,s21/2612/4343/02 May 12,s22/425/4772/20-Oct-12,s23/785/4777/06-Sep-13,s24/1267/4766/02-Jan-15,s25/1618/4782/23-Apr-16,s26/2202/4985/31 -Jul-12,s27/2737/4990/04-Mar-14,s28/3507/4988/13-Mar-17,s29/3007/4028/14-Apr-06,s30/3048/4318/24-Sep-11,s31/4298/4221/07-Sep-2000,s32/5400/2570/01-Aug-77,s33/5457/2830/28 Sep 84,s34/6033/3873/04-Jun-13,s35/4945/4171/29-Nov-11,s36/5229/4177/11 -Aug-12}
  \node[datelab] (\n) at (\x,\y) {\t};
 % junctions and free line ends
 \foreach \n/\x/\y in {mb/3811/402,mohan-a/3065/574,radha-a/3764/683,mr/3523/738,mrb/3523/806,ranitop-a/3457/1039,rajatop-a/3602/1045,rr/3504/1096,rrb/3504/1154,
  hari-a/3054/1462,ashima-a/3315/1435,ha/3115/1473,hab/3115/1861,hal/3038/1861,har/3456/1861,halb/3038/1983,harb/3456/1950,jim-a/2710/1469,jim-b/2710/1515,jimh/3117/1515,
  geeta-a/3740/2232,sheroo-a/4196/2296,gs/4010/2326,gsb/4010/2387,deepak-b/1691/1922,diana-a/2747/2284,bd/1719/2347,karuna-a/3321/3377,murugan-a/4051/3409,km/3693/3469,kmb/3693/3512,
  kml/3252/3512,kmr/4100/3512,kmc/3752/3512,kmlb/3252/3580,kmcb/3752/3699,kmrb/4100/3582,nikhil-a/2347/3973,munni-b/2960/3838,nm/2948/3973,nmb/2948/4053,
  pradeep-a/1700/1507,sikha-a/1932/1535,ps/1760/1567,deepak-a/1750/1922,ganga-a/2232/2200,dg/1945/2269,dj/2196/2269,djb/2196/2299,bisakha-a/1649/2565,pinaki-a/1949/2645,bp/1857/2686,
  debabrata-a/2090/2597,diana-b/2771/2287,dd/2279/2688,rama-a/1850/2959,sriya-a/2254/2955,rs/2020/3066,surya-a/1998/3340,sumithra-a/2750/3407,ssj/2128/3487,ssb/2128/3549,ssr/2446/3487,
  kumari-a/921/3839,shirish-b/1921/3898,ks/1003/4225,ksb/1003/4302,thiana-a/3164/2282,tippu-a/4558/1484,tn/3541/2780,tnb/3541/2827,nandini-a/3827/1441,tippu-b/4514/1484,nt/4102/1529,
  pradeepr-a/5375/1624,sikhar-a/5637/1642,psr/5460/1668,deepakr-a/5455/1995,ranir-a/5837/2017,drr/5661/2043,krishna-a/5221/2453,thara-a/5664/2416,kta/5464/2500,ktb/5464/2586,
  arun-a/5291/2772,anitha-a/5705/2772,aa/5508/2817,aab/5508/2881,darsham-a/5316/3082,priya-a/5737/3076,dp/5555/3105,swarnatwo-a/2001/4793,bheema-a/3662/4264,sba/2254/4969,sbb/2254/5002,
  sbc/2822/4969,sbd/2822/5008,sbe/3595/4969,sbf/3595/5015,deepak-c/1779/1922,rani-a/2489/1955,dr/2215/1960,dra/2452/1960,anand-a/2479/2218,nanda-a/2353/2617,an/2416/2642,
  rajendra-a/2410/3329,karuna-b/3294/3377,rk/2793/3441,rkb/2793/3517,randeer-a/2465/3710,hasina-a/2668/3784,rh/2573/3826,rhb/2573/4324,gbl/1699/4324,gbr/2684/4324,gblb/1699/4390,
  gbs/2001/4324,gbm/2332/4324,gbmb/2332/4373,gbrb/2684/4656,apana-a/2766/4207,bheema-b/3618/4264,abt/2992/4296,abb/2992/4364,kumari-b/895/3839,unknown-a/144/4065,ku/243/4191,
  rwa/789/2780,rwb/789/2812,rwc/783/2892,rwd/783/2920,mwa/1165/2782,mwb/1165/2818,rud-a/840/3087,myna-a/1165/3087,rm/1109/3157,rahul-a/1082/3374,munni-a/2901/3839,rn/2842/3917,rnb/2842/3949,rnc/3483/3949,rnd/4234/4239,
  swarna-c/3884/3070,sma/3884/3122,smb/4794/3122,smc/4794/2358,munna-b/4166/1844,smj/3953/3122,smjb/3953/3179,snj/4483/3122,snjb/4483/3177,
  ramana-a/4339/3415,smeetha-a/5562/3438,rsa/4572/3487,rsab/4572/3623,rsb/4998/3487,rsbb/4998/3523,rsc/5520/3487,rscb/5520/3585,
  charta/5514/2502,manya-a/5753/3782,brahma-a/6379/3798,mbb/5982/3850,mbc/5982/3907,kaveri-a/4949/4108,amulya-a/5218/3719,kv/5002/4156,kva/5175/4156,kvb/5175/4284,diana-d/2908/2276,diana-e/2908/2345,
  swapna-a/3077/3059,pua/3077/3092,pub/4742/3092,puc/4742/2391,munna-c/4155/1856,puj/3265/3092,rud-b/807/3087,karuna-c/3259/3377,rp/2291/3413,
  rud-c/774/3084,sumithra-b/2724/3374,roa/839/3472,rob/1435/3472,roab/839/3566,robb/1435/3562,surekha-a/1591/3884,osd/1351/4637,badri-a/1533/4605,ob/1518/4691,obb/1518/4747,
  obl/364/4747,obr/1704/4747,oblb/364/4793,obm/882/4747,obmb/882/4934,oba/1342/4747,obrb/1704/4929,narayana-a/2640/3059,swarna-b/3841/3070,nc/2730/3120,stilll/3513/2036,stillr/3624/2036}
  \coordinate (\n) at (\x,\y);
 % blue lines
 \draw[blueline] (mohan.south) |- (mb) -| (begum.south);
 \draw[blueline] (mb)--(mb |- radha.north);
 \draw[blueline] (mohan-a) |- (mr) -| (radha-a);
 \draw[blueline] (mr)--(mrb);
 \draw[blueline] (ranitop.north) |- (mrb) -| (rajatop.north);
 \draw[blueline] (ranitop-a) |- (rr) -| (rajatop-a);
 \draw[blueline] (rr)--(rrb);
 \draw[blueline] (hari.north) |- (rrb) -| (nandini.north);
 \draw[blueline] (ashima.north) |- (rrb);
 \draw[blueline] (hari-a) |- (ha) -| (ashima-a);
 \draw[blueline] (ha)--(hab);
 \draw[blueline] (halb)--(hal)--(har)--(harb);
 \draw[blueline] (diana.north) |- (halb) -| (thiana.north);
 \draw[blueline] (neema.north) |- (harb) -| (geeta.north);
 \draw[blueline] (stillborn.north) |- (harb);
 \draw[blueline] (jim-a)--(jim-b);
 \draw[blueline,dash pattern=on .5cm off .2cm] (jim-b)--(jimh);
 \draw[blueline] (geeta-a) |- (gs) -| (sheroo-a);
 \draw[blueline] (gs)--(gsb);
 \draw[blueline] (johar.north) |- (gsb) -| (sham.north);
 \draw[blueline] (sanjeev.north) |- (gsb);
 \draw[blueline] (deepak-b) |- (bd) -| (diana-a);
 \draw[blueline] (bd)--(bd |- bisakha.north);
 \draw[blueline] (karuna-a) |- (km) -| (murugan-a);
 \draw[blueline] (km)--(kmb);
 \draw[blueline] (kmlb)--(kml)--(kmr)--(kmrb);
 \draw[blueline] (kmc)--(kmcb);
 \draw[blueline] (munni.north) |- (kmlb) -| (mukesh.north);
 \draw[blueline] (murali.north) |- (kmlb);
 \draw[blueline] (vanitha.north) |- (kmcb) -| (kavitha.north);
 \draw[blueline] (naina.north) |- (kmrb) -| (vinay.north);
 \draw[blueline] (nikhil-a) -| (munni-b);
 \draw[blueline] (nm)--(nmb);
 \draw[blueline] (hima.north) |- (nmb) -| (bheema.north);
 \draw[blueline] (bunty.north) |- (nmb);
 % black lines
 \draw[blackline] (pradeep-a) |- (ps) -| (sikha-a);
 \draw[blackline] (ps)--(ps |- deepak.north);
 \draw[blackline] (deepak-a) |- (dg) -| (ganga-a);
 \draw[blackline] (dg)--(dg |- pinaki.north);
 \draw[blackline] (dj)--(djb);
 \draw[blackline] (debabrata.north) |- (djb) -| (nanda.north);
 \draw[blackline] (bisakha-a) |- (bp) -| (pinaki-a);
 \draw[blackline] (bp)--(bp |- rama.north);
 \draw[blackline] (debabrata-a) |- (dd) -| (diana-b);
 \draw[blackline] (dd)--(dd |- sriya.north);
 \draw[blackline] (rama-a) |- (rs) -| (sriya-a);
 \draw[blackline] (rs)--(rs |- surya.north);
 \draw[blackline] (surya-a) |- (ssj) -| (sumithra-a);
 \draw[blackline] (ssj)--(ssb);
 \draw[blackline] (shirish.north) |- (ssb) -| (meghna.north);
 \draw[blackline] (ssr)--(ssr |- randeer.north);
 \draw[blackline] (kumari-a) |- (ks) -| (shirish-b);
 \draw[blackline] (ks)--(ksb);
 \draw[blackline] (giri.north) |- (ksb) -| (veena.north);
 \draw[blackline] (vani.north) |- (ksb);
 \draw[blackline] (thiana-a) |- (tn) -| (tippu-a);
 \draw[blackline] (tn)--(tnb);
 \draw[blackline] (narayana.north) |- (tnb) -| (swarna.north);
 \draw[blackline] (swapna.north) |- (tnb);
 \draw[blackline] (nandini-a) |- (nt) -| (tippu-b);
 \draw[blackline] (nt)--(nt |- munna.north);
 \draw[blackline] (pradeepr-a) |- (psr) -| (sikhar-a);
 \draw[blackline] (psr)--(psr |- deepakr.north);
 \draw[blackline] (deepakr-a) |- (drr) -| (ranir-a);
 \draw[blackline] (drr)--(drr |- thara.north);
 \draw[blackline] (krishna-a) |- (kta) -| (thara-a);
 \draw[blackline] (kta)--(ktb);
 \draw[blackline] (arun.north) |- (ktb) -| (anitha.north);
 \draw[blackline] (arun-a) |- (aa) -| (anitha-a);
 \draw[blackline] (aa)--(aab);
 \draw[blackline] (darsham.north) |- (aab) -| (priyadarshi.north);
 \draw[blackline] (darsham-a) |- (dp) -| (priya-a);
 \draw[blackline] (dp)--(dp |- smeetha.north);
 \draw[blackline] (swarnatwo-a) |- (sba) -| (bheema-a);
 \draw[blackline] (sba)--(sbb);
 \draw[blackline] (cubjula.north) |- (sbb) -| (cubjulc.north);
 \draw[blackline] (cubjulb.north) |- (sbb);
 \draw[blackline] (sbc)--(sbd);
 \draw[blackline] (rajatwo.north) |- (sbd) -| (cubmar.north);
 \draw[blackline] (bhawani.north) |- (sbd);
 \draw[blackline] (devi.north) |- (sbd);
 \draw[blackline] (sbe)--(sbf);
 \draw[blackline] (cubpa.north) |- (sbf) -| (baghi.north);
 \draw[blackline] (cubpb.north) |- (sbf);
 \draw[blackline] (cubpc.north) |- (sbf);
 \draw[blackline] (cubpd.north) |- (sbf);
 \draw[blackline] (stilll)--(stillr);
 % green lines
 \draw[greenline] (deepak-c) |- (dr) -| (rani-a);
 \draw[greenline] (dr)--(dr |- ganga.north);
 \draw[greenline] (dra)--(dra |- anand.north);
 \draw[greenline] (anand-a) |- (an) -| (nanda-a);
 \draw[greenline] (an)--(an |- rajendra.north);
 \draw[greenline] (rajendra-a) |- (rk) -| (karuna-b);
 \draw[greenline] (rk)--(rk |- apana.north);
 \draw[greenline] (hasina.north) |- (rkb);
 \draw[greenline] (randeer-a) |- (rh) -| (hasina-a);
 \draw[greenline] (rh)--(rhb);
 \draw[greenline] (gblb)--(gbl)--(gbr)--(gbrb);
 \draw[greenline] (badri.north) |- (gblb) -| (gangatwo.north);
 \draw[greenline] (mohantwo.north) |- (gblb);
 \draw[greenline] (gbs)--(gbs |- swarnatwo.north);
 \draw[greenline] (gbm)--(gbmb);
 \draw[greenline] (cubtira.north) |- (gbmb) -| (kailash.north);
 \draw[greenline] (ranitwo.north) |- (gbmb);
 \draw[greenline] (krishnatwo.north) |- (gbrb) -| (subhadra.north);
 \draw[greenline] (balaram.north) |- (gbrb);
 \draw[greenline] (apana-a) |- (abt) -| (bheema-b);
 \draw[greenline] (abt)--(abb);
 \draw[greenline] (prabhas.north) |- (abb) -| (anushka.north);
 \draw[greenline] (saif.north) |- (abb);
 \draw[greenline] (kumari-b) |- (ku) -| (unknown-a);
 \draw[greenline] (ku)--(ku |- savitri.north);
 % red lines
 \draw[redline] (rwa)--(rwb);
 \draw[redline] (rwc)--(rwd);
 \draw[redline] (mwa)--(mwb);
 \draw[redline] (rud-a) |- (rm) -| (myna-a);
 \draw[redline] (rm)--(rm |- rahul.north);
 \draw[redline] (rahul-a) |- (rn) -| (munni-a);
 \draw[redline] (rn)--(rnb)--(rnc)--(rnd);
 \draw[redline] (sony.north) |- (rnd) -| (noel.north);
 \draw[redline] (roger.north) |- (rnd);
 \draw[redline] (swarna-c)--(sma)--(smb)--(smc)--(munna-b);
 \draw[redline] (smj)--(smjb);
 \draw[redline] (mahesh.north) |- (smjb) -| (murugan.north);
 \draw[redline] (snj)--(snjb);
 \draw[redline] (ramana.north) |- (snjb) -| (suguna.north);
 \draw[redline] (ramana-a) |- (rsb) -| (smeetha-a);
 \draw[redline] (rsa)--(rsab);
 \draw[redline] (cubjana.north) |- (rsab) -| (cubjanb.north);
 \draw[redline] (rsb)--(rsbb);
 \draw[redline] (agasthya.north) |- (rsbb) -| (amulya.north);
 \draw[redline] (ananya.north) |- (rsbb);
 \draw[redline] (rsc)--(rscb);
 \draw[redline] (prathap.north) |- (rscb) -| (manya.north);
 \draw[redline] (prashanth.north) |- (rscb);
 \draw[redline,-{Straight Barb[length=6pt,width=11pt]}] (charta) |- (seechart.west);
 \draw[redline] (manya-a) |- (mbb) -| (brahma-a);
 \draw[redline] (mbb)--(mbc);
 \draw[redline] (mruthyunjay.north) |- (mbc) -| (nakula.north);
 \draw[redline] (vayaputra.north) |- (mbc);
 \draw[redline] (pruthvi.north) |- (mbc);
 \draw[redline] (kaveri-a) |- (kv) -| (amulya-a);
 \draw[redline] (kv)--(kv |- cubnov.north);
 \draw[redline] (kva)--(kvb);
 \draw[redline] (cubauga.north) |- (kvb) -| (cubaugc.north);
 \draw[redline] (cubaugb.north) |- (kvb);
 \draw[line width=1.3pt,red!75!black,-{Straight Barb[length=6pt,width=9pt]}] (diana-d)--(diana-e);
 % purple lines
 \draw[purpleline] (swapna-a)--(pua)--(pub)--(puc)--(munna-c);
 \draw[purpleline] (puj)--(puj |- karuna.north);
 \draw[purpleline] (rud-b) |- (rp) -| (karuna-c);
 \draw[purpleline] (rp)--(rp |- nikhil.north);
 % orange lines
 \draw[orangeline] (rud-c) |- (rob) -| (sumithra-b);
 \draw[orangeline] (roa)--(roab);
 \draw[orangeline] (keerthi.north) |- (roab) -| (kumari.north);
 \draw[orangeline] (kunal.north) |- (roab);
 \draw[orangeline] (rob)--(robb);
 \draw[orangeline] (shankar.north) |- (robb) -| (swaty.north);
 \draw[orangeline] (sameer.north) |- (robb);
 \draw[orangeline] (surekha.north) |- (robb);
 \draw[orangeline] (surekha-a)--(osd) |- (ob) -| (badri-a);
 \draw[orangeline] (ob)--(obb);
 \draw[orangeline] (oblb)--(obl)--(obr)--(obrb);
 \draw[orangeline] (sharan.north) |- (oblb) -| (kiran.north);
 \draw[orangeline] (obm)--(obmb);
 \draw[orangeline] (divanyi.north) |- (obmb) -| (dhanush.north);
 \draw[orangeline] (dharma.north) |- (obmb);
 \draw[orangeline] (oba)--(oba |- abhimanyu.north);
 \draw[orangeline] (khavi.north) |- (obrb) -| (nagamani.north);
 % cyan line
 \draw[cyanline] (narayana-a) |- (nc) -| (swarna-b);
 \draw[cyanline] (nc)--(nc |- sumithra.north);
\end{tikzpicture}
\end{document}
